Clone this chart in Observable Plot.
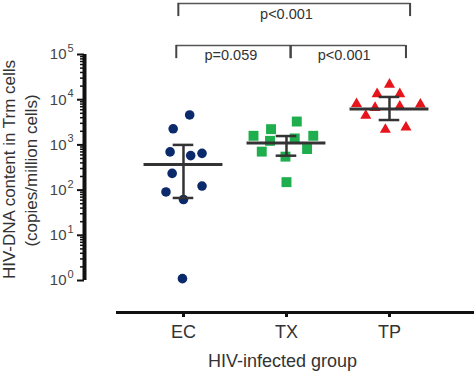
<!DOCTYPE html>
<html><head><meta charset="utf-8">
<script src="https://cdn.jsdelivr.net/npm/d3@7"></script>
<script src="https://cdn.jsdelivr.net/npm/@observablehq/plot@0.6"></script>
<style>body{margin:0;background:#fff}#chart svg{display:block}</style>
</head><body><div id="chart"></div>
<script>
// ---- data ----
const groups = ["EC", "TX", "TP"];
const ecValues = [4600, 2270, 700, 580, 650, 234, 91, 123, 62, 1.1];
const txValues = [1590, 2230, 3290, 1590, 1230, 1390, 710, 810, 550, 150];
const tpValues = [21700, 13400, 13400, 8100, 6640, 7100, 7900, 4440, 2180, 2450];
// horizontal scatter of each point within its group (fraction of group spacing)
const ecJitter = [0.06, -0.10, -0.13, 0.07, 0.18, -0.11, -0.17, 0.18, 0.00, -0.01];
const txJitter = [-0.32, -0.15, 0.10, 0.26, -0.16, 0.08, -0.24, 0.20, -0.01, 0.00];
const tpJitter = [0.00, -0.12, 0.10, -0.32, -0.14, 0.10, 0.30, -0.23, -0.04, 0.16];
const medians = [370, 1100, 6200];
const lowers = [67, 577, 3550];
const uppers = [1000, 1570, 11500];
const yTickDecades = [0, 1, 2, 3, 4, 5];
const comparisons = [
  {from: 0, to: 2, label: "p<0.001", level: 1},
  {from: 0, to: 1, label: "p=0.059", level: 0},
  {from: 1, to: 2, label: "p<0.001", level: 0}
];
const xTitle = "HIV-infected group";
const yTitle1 = "HIV-DNA content in Trm cells";
const yTitle2 = "(copies/million cells)";

// ---- build tables ----
const seriesValues = [ecValues, txValues, tpValues];
const seriesJitter = [ecJitter, txJitter, tpJitter];
const points = seriesValues.flatMap((vals, g) =>
  vals.map((v, i) => ({group: groups[g], gi: g, x: g + seriesJitter[g][i], value: v})));
const summary = groups.map((g, i) => ({group: g, gi: i, median: medians[i], lo: lowers[i], hi: uppers[i]}));
const minorTicks = yTickDecades.slice(0, -1).flatMap(d => d3.range(2, 10).map(k => k * 10 ** d));
const majorTicks = yTickDecades.map(d => 10 ** d);

const font = "Liberation Sans, Arial, sans-serif";
const xMin = -0.961, xMax = 2.806;
const half = 0.383, cap = 0.1;
// bracket levels (in y data units above 10^5)
const bracketY = [[1.58e5, 8.1e4, 9.5e4], [1.35e6, 6.9e5, 7.7e5]];
const bx = {0: -0.07, 1: 1.04, 2: 2.16};
const bxTop = {0: -0.05, 2: 2.2};

const bracketLines = comparisons.map(c => {
  const xs = c.level ? bxTop : bx;
  return {x1: xs[c.from], x2: xs[c.to], y: bracketY[c.level][0]};
});
const bracketDrops = [];
comparisons.forEach(c => {
  const xs = c.level ? bxTop : bx;
  [c.from, c.to].forEach(k => bracketDrops.push({x: xs[k], y1: bracketY[c.level][0], y2: bracketY[c.level][1]}));
});
const bracketLabels = comparisons.map(c => ({x: (c.from + c.to) / 2 + (c.level ? 0 : (c.to === 2 ? 0.06 : -0.04)), y: bracketY[c.level][2], text: c.label}));

const chart = Plot.plot({
  width: 474,
  height: 376,
  marginLeft: 84,
  marginRight: 2,
  marginTop: 54,
  marginBottom: 64,
  style: {fontFamily: font, background: "#fff"},
  x: {type: "linear", domain: [xMin, xMax], axis: null},
  y: {type: "log", domain: [1, 1e5], range: [280, 54], axis: null},
  marks: [
    // y axis
    Plot.ruleX([xMin], {y1: 1, y2: 1e5, stroke: "#111", strokeWidth: 4}),
    Plot.axisY({ticks: minorTicks, tickSize: 4, tickFormat: () => "", stroke: "#111", strokeWidth: 1.5}),
    Plot.axisY({ticks: majorTicks, tickSize: 7, tickFormat: () => "", stroke: "#111", strokeWidth: 2}),
    Plot.text(yTickDecades, {y: d => 10 ** d, text: () => "10", frameAnchor: "left", dx: -18, textAnchor: "end", fontSize: 15, fill: "#444"}),
    Plot.text(yTickDecades, {y: d => 10 ** d, text: d => String(d), frameAnchor: "left", dx: -17, dy: -6, textAnchor: "start", fontSize: 11, fill: "#444"}),
    Plot.text([yTitle1], {text: d => d, frameAnchor: "left", textAnchor: "middle", rotate: -90, dx: -75, dy: -14, fontSize: 17, fill: "#333"}),
    Plot.text([yTitle2], {text: d => d, frameAnchor: "left", textAnchor: "middle", rotate: -90, dx: -53, dy: -13, fontSize: 17, fill: "#333"}),
    // x axis
    Plot.frame({anchor: "bottom", insetLeft: 33, stroke: "#111", strokeWidth: 3}),
    Plot.axisX({ticks: [0, 1, 2], tickSize: 5, tickPadding: 8, tickFormat: i => groups[i], stroke: "#111", strokeWidth: 3, fontSize: 18, fill: "#333"}),
    Plot.text([xTitle], {text: d => d, frameAnchor: "bottom", dx: 4, dy: 54, fontSize: 18, fill: "#333"}),
    // points
    Plot.dot(points.filter(d => d.gi === 0), {x: "x", y: "value", r: 4.8, symbol: "circle", fill: "#0b2a6b"}),
    Plot.dot(points.filter(d => d.gi === 1), {x: "x", y: "value", r: 5.6, symbol: "square", fill: "#1fae4e"}),
    Plot.dot(points.filter(d => d.gi === 2), {x: "x", y: "value", r: 4.1, symbol: "triangle", fill: "#e8141c"}),
    // median and error bars
    Plot.ruleY(summary, {y: "median", x1: d => d.gi - half, x2: d => d.gi + half, stroke: "#333", strokeWidth: 3}),
    Plot.ruleX(summary, {x: "gi", y1: "lo", y2: "hi", stroke: "#333", strokeWidth: 2.5}),
    Plot.ruleY(summary, {y: "lo", x1: d => d.gi - cap, x2: d => d.gi + cap, stroke: "#333", strokeWidth: 2.5}),
    Plot.ruleY(summary, {y: "hi", x1: d => d.gi - cap, x2: d => d.gi + cap, stroke: "#333", strokeWidth: 2.5}),
    // significance brackets
    Plot.ruleY(bracketLines, {y: "y", x1: "x1", x2: "x2", stroke: "#555", strokeWidth: 1.5}),
    Plot.ruleX(bracketDrops, {x: "x", y1: "y1", y2: "y2", stroke: "#444", strokeWidth: 2}),
    Plot.text(bracketLabels, {x: "x", y: "y", text: "text", fontSize: 14.5, fill: "#333"})
  ]
});
document.getElementById("chart").appendChild(chart);
</script>
</body></html>
